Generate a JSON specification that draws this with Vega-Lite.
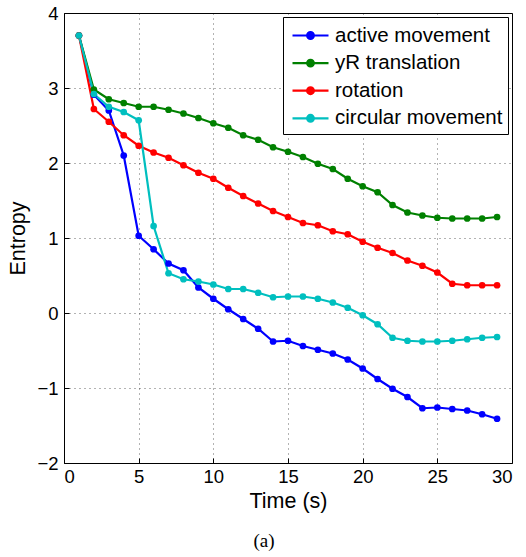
{
  "$schema": "https://vega.github.io/schema/vega-lite/v6.json",
  "width": 448,
  "height": 450,
  "autosize": {"type": "none"},
  "padding": {"left": 64, "top": 13, "right": 14, "bottom": 94},
  "background": "white",
  "title": {"text": "(a)", "orient": "bottom", "font": "Liberation Serif", "fontSize": 19, "fontWeight": "normal", "color": "black", "offset": 20, "dx": -24, "anchor": "middle", "baseline": "top"},
  "config": {
    "view": {"stroke": "black", "strokeWidth": 1},
    "axis": {
      "labelFont": "Liberation Sans", "labelFontSize": 18.5, "labelColor": "black",
      "titleFont": "Liberation Sans", "titleFontSize": 21.5, "titleFontWeight": "normal", "titleColor": "black",
      "grid": true, "gridColor": "#000000", "gridOpacity": 0.6, "gridDash": [1, 4], "gridWidth": 1,
      "domain": false, "ticks": true, "tickSize": -5, "tickColor": "black", "tickWidth": 1
    },
    "legend": {
      "orient": "top-right", "offset": 4, "strokeColor": "black", "fillColor": "white",
      "padding": 5, "labelFont": "Liberation Sans", "labelFontSize": 20.5, "labelColor": "black",
      "symbolType": "M-1.5,0H1.5M-0.28,0A0.28,0.28 0 1,0 0.28,0A0.28,0.28 0 1,0 -0.28,0",
      "symbolSize": 576, "symbolStrokeWidth": 2.2, "symbolOffset": 9, "labelOffset": 11,
      "rowPadding": 3.6, "labelLimit": 300
    }
  },
  "data": {"values": [
    {"t":1,"s":"active movement","v":3.7},{"t":2,"s":"active movement","v":2.91},{"t":3,"s":"active movement","v":2.7},{"t":4,"s":"active movement","v":2.1},{"t":5,"s":"active movement","v":1.03},{"t":6,"s":"active movement","v":0.85},{"t":7,"s":"active movement","v":0.66},{"t":8,"s":"active movement","v":0.57},{"t":9,"s":"active movement","v":0.34},{"t":10,"s":"active movement","v":0.19},{"t":11,"s":"active movement","v":0.05},{"t":12,"s":"active movement","v":-0.08},{"t":13,"s":"active movement","v":-0.21},{"t":14,"s":"active movement","v":-0.38},{"t":15,"s":"active movement","v":-0.37},{"t":16,"s":"active movement","v":-0.44},{"t":17,"s":"active movement","v":-0.49},{"t":18,"s":"active movement","v":-0.54},{"t":19,"s":"active movement","v":-0.62},{"t":20,"s":"active movement","v":-0.74},{"t":21,"s":"active movement","v":-0.88},{"t":22,"s":"active movement","v":-1.01},{"t":23,"s":"active movement","v":-1.12},{"t":24,"s":"active movement","v":-1.27},{"t":25,"s":"active movement","v":-1.26},{"t":26,"s":"active movement","v":-1.28},{"t":27,"s":"active movement","v":-1.3},{"t":28,"s":"active movement","v":-1.35},{"t":29,"s":"active movement","v":-1.41},
    {"t":1,"s":"yR translation","v":3.7},{"t":2,"s":"yR translation","v":2.98},{"t":3,"s":"yR translation","v":2.85},{"t":4,"s":"yR translation","v":2.8},{"t":5,"s":"yR translation","v":2.75},{"t":6,"s":"yR translation","v":2.75},{"t":7,"s":"yR translation","v":2.71},{"t":8,"s":"yR translation","v":2.66},{"t":9,"s":"yR translation","v":2.6},{"t":10,"s":"yR translation","v":2.53},{"t":11,"s":"yR translation","v":2.47},{"t":12,"s":"yR translation","v":2.37},{"t":13,"s":"yR translation","v":2.31},{"t":14,"s":"yR translation","v":2.21},{"t":15,"s":"yR translation","v":2.15},{"t":16,"s":"yR translation","v":2.08},{"t":17,"s":"yR translation","v":1.99},{"t":18,"s":"yR translation","v":1.92},{"t":19,"s":"yR translation","v":1.79},{"t":20,"s":"yR translation","v":1.69},{"t":21,"s":"yR translation","v":1.61},{"t":22,"s":"yR translation","v":1.44},{"t":23,"s":"yR translation","v":1.34},{"t":24,"s":"yR translation","v":1.3},{"t":25,"s":"yR translation","v":1.27},{"t":26,"s":"yR translation","v":1.26},{"t":27,"s":"yR translation","v":1.26},{"t":28,"s":"yR translation","v":1.26},{"t":29,"s":"yR translation","v":1.28},
    {"t":1,"s":"rotation","v":3.7},{"t":2,"s":"rotation","v":2.72},{"t":3,"s":"rotation","v":2.55},{"t":4,"s":"rotation","v":2.37},{"t":5,"s":"rotation","v":2.23},{"t":6,"s":"rotation","v":2.14},{"t":7,"s":"rotation","v":2.07},{"t":8,"s":"rotation","v":1.97},{"t":9,"s":"rotation","v":1.87},{"t":10,"s":"rotation","v":1.79},{"t":11,"s":"rotation","v":1.67},{"t":12,"s":"rotation","v":1.56},{"t":13,"s":"rotation","v":1.46},{"t":14,"s":"rotation","v":1.36},{"t":15,"s":"rotation","v":1.28},{"t":16,"s":"rotation","v":1.2},{"t":17,"s":"rotation","v":1.17},{"t":18,"s":"rotation","v":1.09},{"t":19,"s":"rotation","v":1.05},{"t":20,"s":"rotation","v":0.95},{"t":21,"s":"rotation","v":0.87},{"t":22,"s":"rotation","v":0.8},{"t":23,"s":"rotation","v":0.7},{"t":24,"s":"rotation","v":0.63},{"t":25,"s":"rotation","v":0.54},{"t":26,"s":"rotation","v":0.39},{"t":27,"s":"rotation","v":0.37},{"t":28,"s":"rotation","v":0.37},{"t":29,"s":"rotation","v":0.37},
    {"t":1,"s":"circular movement","v":3.7},{"t":2,"s":"circular movement","v":2.92},{"t":3,"s":"circular movement","v":2.75},{"t":4,"s":"circular movement","v":2.68},{"t":5,"s":"circular movement","v":2.57},{"t":6,"s":"circular movement","v":1.16},{"t":7,"s":"circular movement","v":0.53},{"t":8,"s":"circular movement","v":0.45},{"t":9,"s":"circular movement","v":0.42},{"t":10,"s":"circular movement","v":0.38},{"t":11,"s":"circular movement","v":0.32},{"t":12,"s":"circular movement","v":0.32},{"t":13,"s":"circular movement","v":0.27},{"t":14,"s":"circular movement","v":0.21},{"t":15,"s":"circular movement","v":0.22},{"t":16,"s":"circular movement","v":0.22},{"t":17,"s":"circular movement","v":0.19},{"t":18,"s":"circular movement","v":0.14},{"t":19,"s":"circular movement","v":0.07},{"t":20,"s":"circular movement","v":-0.03},{"t":21,"s":"circular movement","v":-0.15},{"t":22,"s":"circular movement","v":-0.33},{"t":23,"s":"circular movement","v":-0.37},{"t":24,"s":"circular movement","v":-0.38},{"t":25,"s":"circular movement","v":-0.38},{"t":26,"s":"circular movement","v":-0.37},{"t":27,"s":"circular movement","v":-0.35},{"t":28,"s":"circular movement","v":-0.33},{"t":29,"s":"circular movement","v":-0.32}
  ]},
  "mark": {"type": "line", "strokeWidth": 2.2, "point": {"filled": true, "size": 45, "opacity": 1}},
  "encoding": {
    "x": {"field": "t", "type": "quantitative", "title": "Time (s)",
      "scale": {"domain": [0, 30], "nice": false},
      "axis": {"values": [0, 5, 10, 15, 20, 25, 30], "labelPadding": 9, "titlePadding": 5}},
    "y": {"field": "v", "type": "quantitative", "title": "Entropy",
      "scale": {"domain": [-2, 4], "nice": false, "zero": false},
      "axis": {"values": [-2, -1, 0, 1, 2, 3, 4], "labelPadding": 11, "titlePadding": 7}},
    "color": {"field": "s", "type": "nominal", "title": null,
      "scale": {"domain": ["active movement", "yR translation", "rotation", "circular movement"], "range": ["#0000FF", "#008000", "#FF0000", "#00BFBF"]},
      "legend": {"encode": {"symbols": {"update": {"fill": {"scale": "color", "field": "value"}, "fillOpacity": {"value": 1}}}}}},
    "order": {"field": "t", "type": "quantitative"}
  }
}
